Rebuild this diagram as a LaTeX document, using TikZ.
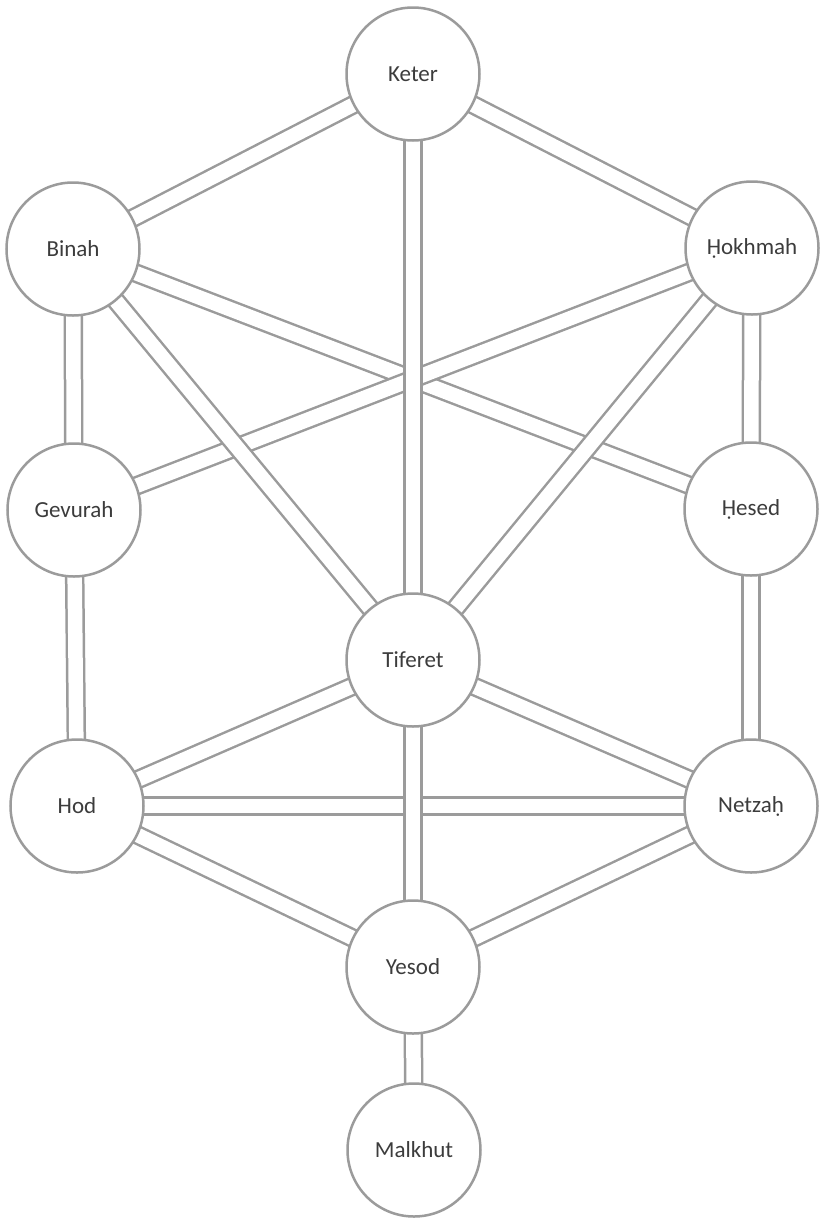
\documentclass[tikz,border=0pt]{standalone}
\usepackage{fontspec}
\setmainfont{Carlito}
\usepackage{tikz}
\usetikzlibrary{backgrounds}
\definecolor{TreeGrey}{HTML}{9B9B9B}
\definecolor{TreeInk}{HTML}{3C3C3C}

\begin{document}
\begin{tikzpicture}[
  x=1pt,y=-1pt,
  sefira/.style={circle,draw=TreeGrey,line width=2.5pt,fill=white,minimum size=133pt,inner sep=0pt,text=TreeInk,font=\fontsize{23}{26}\selectfont},
  channel/.style={draw=TreeGrey,line width=2.5pt,double=white,double distance=14.5pt}
]
  \useasboundingbox (0,0) rectangle (822,1219);
  \node[sefira] (keter) at (413,74) {Keter};
  \node[sefira] (binah) at (73,249) {Binah};
  \node[sefira] (hokhmah) at (752,248) {Ḥokhmah};
  \node[sefira] (gevurah) at (74,510) {Gevurah};
  \node[sefira] (hesed) at (751,509) {Ḥesed};
  \node[sefira] (tiferet) at (413,660) {Tiferet};
  \node[sefira] (hod) at (77,806) {Hod};
  \node[sefira] (netzah) at (751,806) {Netzaḥ};
  \node[sefira] (yesod) at (413,967) {Yesod};
  \node[sefira] (malkhut) at (414,1150) {Malkhut};
  \begin{scope}[on background layer]
    \draw[channel] (keter.center) -- (binah.center);
    \draw[channel] (keter.center) -- (hokhmah.center);
    \draw[channel] (binah.center) -- (hesed.center);
    \draw[channel] (hokhmah.center) -- (gevurah.center);
    \draw[channel] (binah.center) -- (tiferet.center);
    \draw[channel] (hokhmah.center) -- (tiferet.center);
    \draw[channel] (tiferet.center) -- (hod.center);
    \draw[channel] (tiferet.center) -- (netzah.center);
    \draw[channel] (hod.center) -- (yesod.center);
    \draw[channel] (netzah.center) -- (yesod.center);
    \draw[channel] (hod.center) -- (netzah.center);
    \draw[channel] (binah.center) -- (gevurah.center);
    \draw[channel] (gevurah.center) -- (hod.center);
    \draw[channel] (hokhmah.center) -- (hesed.center);
    \draw[channel] (hesed.center) -- (netzah.center);
    \draw[channel] (keter.center) -- (tiferet.center);
    \draw[channel] (tiferet.center) -- (yesod.center);
    \draw[channel] (yesod.center) -- (malkhut.center);
  \end{scope}
\end{tikzpicture}
\end{document}
